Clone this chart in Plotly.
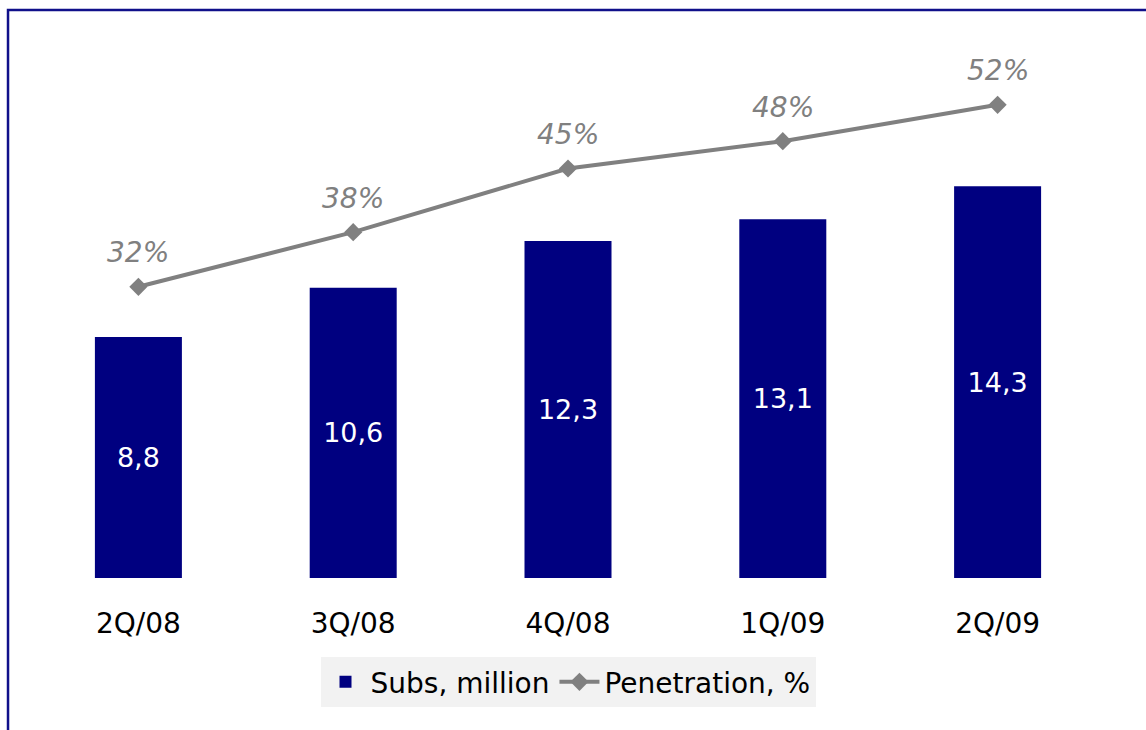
import plotly.graph_objects as go

# Quarterly subscribers and penetration
quarters = ["2Q/08", "3Q/08", "4Q/08", "1Q/09", "2Q/09"]
subs_million = [8.8, 10.6, 12.3, 13.1, 14.3]
penetration_pct = [32, 38, 45, 48, 52]

NAVY = "#000080"
GREY = "#808080"
FONT = "DejaVu Sans"

fig = go.Figure()

fig.add_trace(go.Bar(
    x=quarters,
    y=subs_million,
    name="Subs, million",
    marker=dict(color=NAVY, line=dict(width=0)),
    width=0.405,
    texttemplate="%{y:.1f}",
    textposition="inside",
    insidetextanchor="middle",
    textfont=dict(family=FONT, size=27, color="white"),
    textangle=0,
    constraintext="none",
    yaxis="y",
))

fig.add_trace(go.Scatter(
    x=quarters,
    y=penetration_pct,
    name="Penetration, %",
    mode="lines+markers",
    line=dict(color=GREY, width=4),
    marker=dict(symbol="diamond", size=14, color=GREY),
    yaxis="y2",
))

# Percentage labels above each point
for q, p in zip(quarters, penetration_pct):
    fig.add_annotation(
        x=q, y=p, xref="x", yref="y2",
        text=f"{p}%",
        showarrow=False,
        yshift=34,
        font=dict(family=FONT, size=28, color=GREY, style="italic"),
    )

# Navy frame around the chart
fig.add_shape(
    type="rect", xref="paper", yref="paper",
    x0=-0.0214, x1=1.3, y0=-0.6, y1=1.0558,
    line=dict(color="#10108a", width=2.5),
    fillcolor="rgba(0,0,0,0)",
    layer="below",
)

fig.update_layout(
    width=1146,
    height=730,
    margin=dict(l=31, r=41, t=40, b=152),
    paper_bgcolor="white",
    plot_bgcolor="white",
    separators=", ",
    bargap=0.595,
    font=dict(family=FONT, size=28, color="black"),
    xaxis=dict(
        showgrid=False,
        showline=False,
        zeroline=False,
        ticks="outside",
        ticklen=20,
        tickcolor="rgba(0,0,0,0)",
        tickfont=dict(family=FONT, size=28, color="black"),
        range=[-0.5, 4.5],
    ),
    yaxis=dict(
        range=[0, 19.64],
        visible=False,
        showgrid=False,
        zeroline=False,
    ),
    yaxis2=dict(
        range=[0, 59.12],
        overlaying="y",
        side="right",
        visible=False,
        showgrid=False,
        zeroline=False,
    ),
    showlegend=True,
    legend=dict(
        orientation="h",
        x=0.5,
        xanchor="center",
        y=-0.147,
        yanchor="top",
        bgcolor="#f2f2f2",
        font=dict(family=FONT, size=28, color="black"),
        itemwidth=40,
        tracegroupgap=0,
    ),
)

fig.write_html("out.html")
